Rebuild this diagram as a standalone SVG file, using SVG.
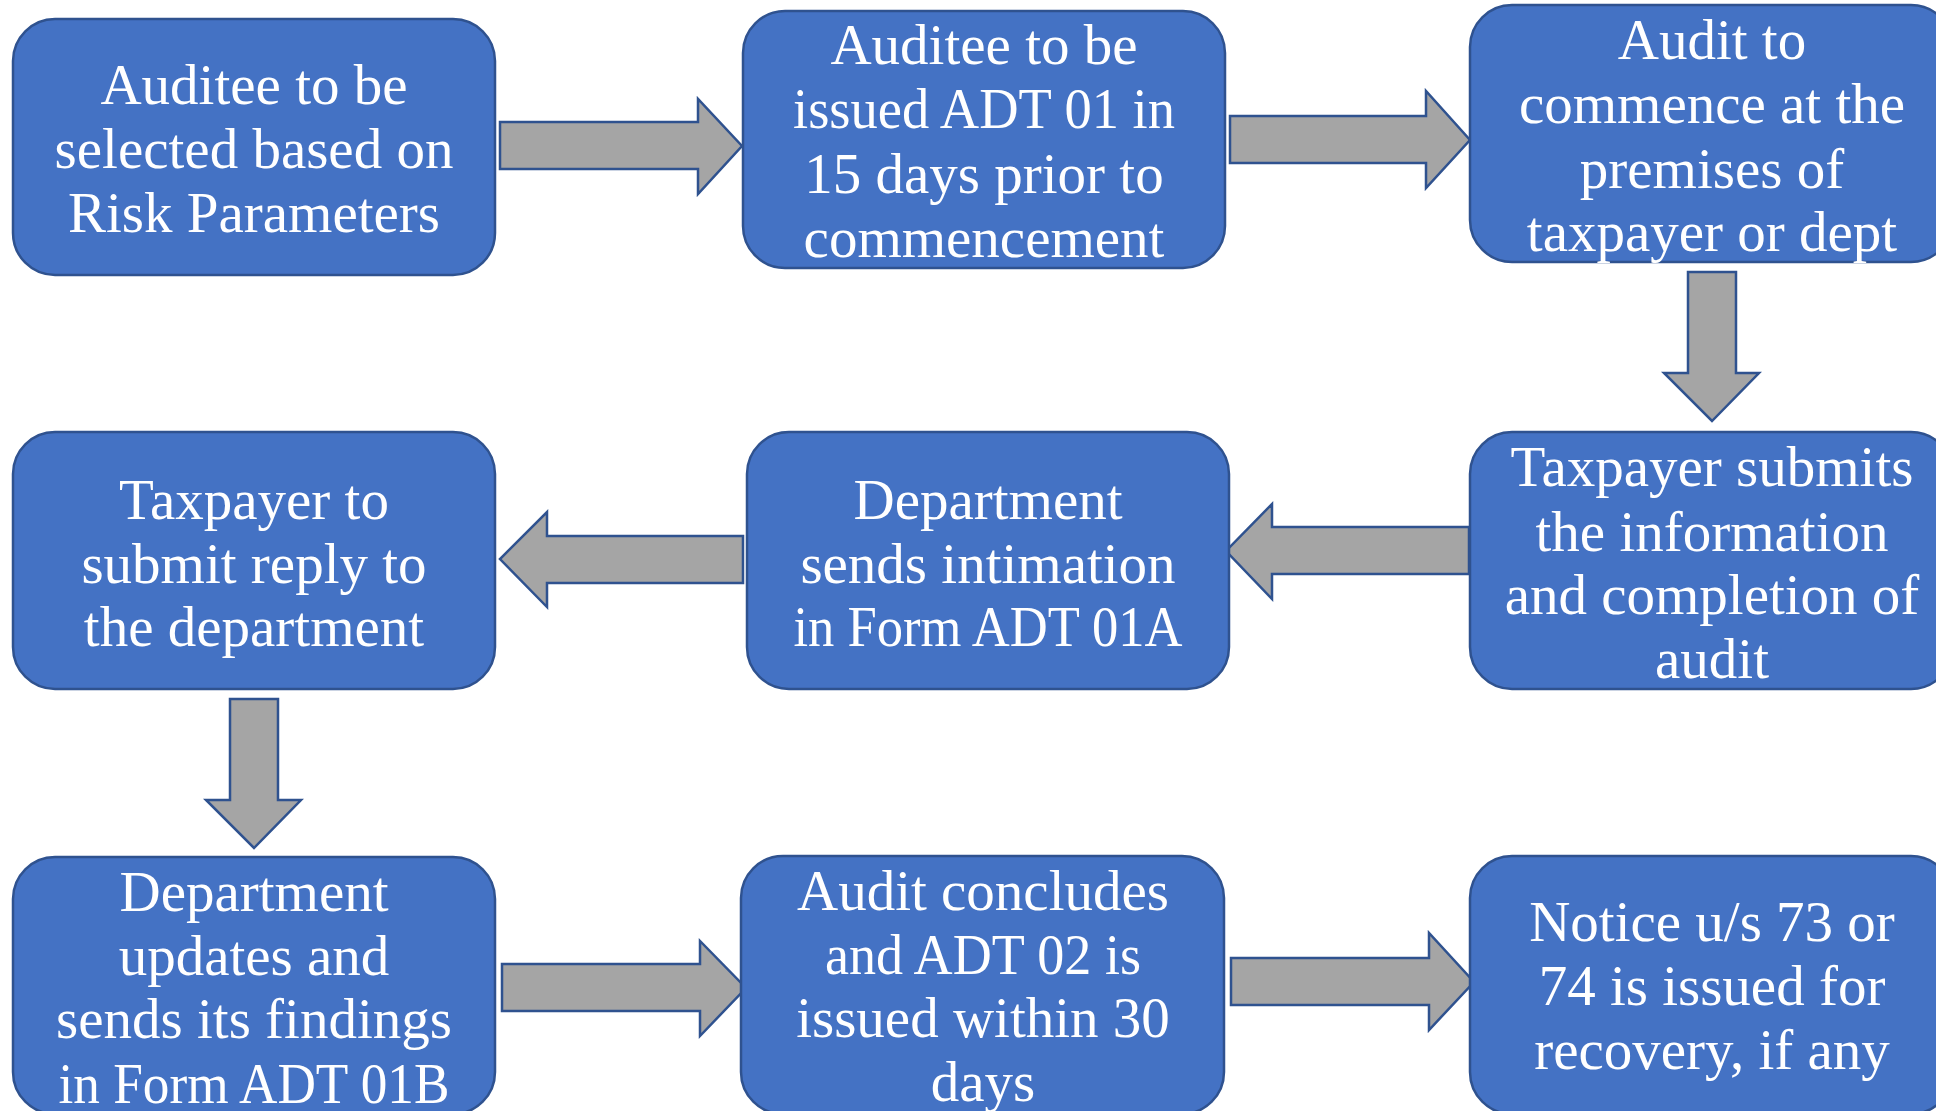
<svg xmlns="http://www.w3.org/2000/svg" width="1936" height="1111" viewBox="0 0 1936 1111">
<style>
.box{fill:#4472C4;stroke:#2F528F;stroke-width:2.5}
.arr{fill:#A5A5A5;stroke:#2F528F;stroke-width:2.5;stroke-linejoin:miter}
.t{font-family:"Liberation Serif","DejaVu Serif",serif;font-size:57px;fill:#FFFFFF;text-anchor:middle}
</style>
<rect width="1936" height="1111" fill="#FFFFFF"/>
<g id="connectors">
<path class="arr" d="M500,122 H698 V99 L742,146 L698,194 V169 H500 Z"/>
<path class="arr" d="M1230,116 H1426 V91 L1470,140 L1426,188 V163 H1230 Z"/>
<path class="arr" d="M1688,272 H1736 V373 H1759 L1712,421 L1664,373 H1688 Z"/>
<path class="arr" d="M1469,527 H1272 V504 L1226,551 L1272,599 V574 H1469 Z"/>
<path class="arr" d="M743,536 H547 V512 L500,559 L547,607 V583 H743 Z"/>
<path class="arr" d="M230,699 H278 V800 H301 L254,848 L206,800 H230 Z"/>
<path class="arr" d="M502,964 H700 V941 L746,988 L700,1036 V1011 H502 Z"/>
<path class="arr" d="M1231,958 H1429 V933 L1474,982 L1429,1030 V1005 H1231 Z"/>
</g>
<g id="n1">
<rect class="box" x="13" y="19" width="482" height="256" rx="42"/>
<text class="t" x="254" y="104">Auditee to be</text>
<text class="t" x="254" y="168">selected based on</text>
<text class="t" x="254" y="232">Risk Parameters</text>
</g>
<g id="n2">
<rect class="box" x="743" y="11" width="482" height="257" rx="42"/>
<text class="t" x="984" y="64">Auditee to be</text>
<text class="t" x="984" y="128" textLength="382" lengthAdjust="spacingAndGlyphs">issued ADT 01 in</text>
<text class="t" x="984" y="193">15 days prior to</text>
<text class="t" x="984" y="257">commencement</text>
</g>
<g id="n3">
<rect class="box" x="1470" y="5" width="483" height="257" rx="42"/>
<text class="t" x="1712" y="59">Audit to</text>
<text class="t" x="1712" y="123">commence at the</text>
<text class="t" x="1712" y="188">premises of</text>
<text class="t" x="1712" y="251">taxpayer or dept</text>
</g>
<g id="n4">
<rect class="box" x="1470" y="432" width="483" height="257" rx="42"/>
<text class="t" x="1712" y="486">Taxpayer submits</text>
<text class="t" x="1712" y="551">the information</text>
<text class="t" x="1712" y="614">and completion of</text>
<text class="t" x="1712" y="678">audit</text>
</g>
<g id="n5">
<rect class="box" x="747" y="432" width="482" height="257" rx="42"/>
<text class="t" x="988" y="519">Department</text>
<text class="t" x="988" y="583">sends intimation</text>
<text class="t" x="988" y="646" textLength="389" lengthAdjust="spacingAndGlyphs">in Form ADT 01A</text>
</g>
<g id="n6">
<rect class="box" x="13" y="432" width="482" height="257" rx="42"/>
<text class="t" x="254" y="519">Taxpayer to</text>
<text class="t" x="254" y="583">submit reply to</text>
<text class="t" x="254" y="646">the department</text>
</g>
<g id="n7">
<rect class="box" x="13" y="857" width="482" height="257" rx="42"/>
<text class="t" x="254" y="911">Department</text>
<text class="t" x="254" y="975">updates and</text>
<text class="t" x="254" y="1038">sends its findings</text>
<text class="t" x="254" y="1103" textLength="391" lengthAdjust="spacingAndGlyphs">in Form ADT 01B</text>
</g>
<g id="n8">
<rect class="box" x="741" y="856" width="483" height="258" rx="42"/>
<text class="t" x="983" y="910">Audit concludes</text>
<text class="t" x="983" y="974" textLength="316" lengthAdjust="spacingAndGlyphs">and ADT 02 is</text>
<text class="t" x="983" y="1037">issued within 30</text>
<text class="t" x="983" y="1101">days</text>
</g>
<g id="n9">
<rect class="box" x="1470" y="856" width="483" height="258" rx="42"/>
<text class="t" x="1712" y="941">Notice u/s 73 or</text>
<text class="t" x="1712" y="1005">74 is issued for</text>
<text class="t" x="1712" y="1069">recovery, if any</text>
</g>
</svg>
